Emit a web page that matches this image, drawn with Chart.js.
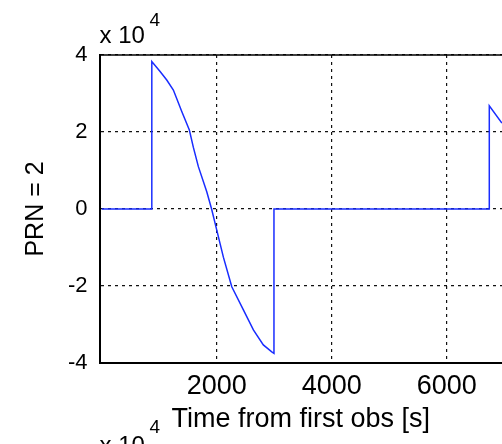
<!DOCTYPE html>
<html>
<head>
<meta charset="utf-8">
<script src="https://cdn.jsdelivr.net/npm/chart.js@4.4.1/dist/chart.umd.min.js"></script>
<style>
  html, body { margin: 0; padding: 0; background: #fff; overflow: hidden; }
  #wrap { width: 502px; height: 444px; }
</style>
</head>
<body>
<div id="wrap"><canvas id="chart" width="502" height="444"></canvas></div>
<script>
// time from first observation [s]
var timeSec = [0, 870, 870, 1014, 1130, 1245, 1391, 1523, 1593, 1680, 1826, 1910, 2000,
               2115, 2261, 2463, 2637, 2810, 2957, 2995, 2995, 6741, 6741, 6960];
// PRN 2 values (raw, plotted as x 10^4)
var prnValue = [0, 0, 38300, 35700, 33500, 30900, 25300, 20500, 16000, 11000, 4500, 0, -5500,
                -12500, -20200, -26200, -31400, -35300, -37100, -37500, 0, 0, 26800, 22300];
var xTicks = [2000, 4000, 6000];
var yTicks = [-40000, -20000, 0, 20000, 40000];
var yLabel = 'PRN = 2';
var xLabel = 'Time from first obs [s]';

var pts = timeSec.map(function (t, i) { return {x: t, y: prnValue[i]}; });

// frame top line + "x 10^4" exponent labels
var extras = {
  id: 'extras',
  afterDraw: function (c) {
    var ctx = c.ctx, a = c.chartArea;
    ctx.save();
    ctx.strokeStyle = '#000';
    ctx.lineWidth = 1.5;
    ctx.beginPath();
    ctx.moveTo(a.left, a.top);
    ctx.lineTo(a.right, a.top);
    ctx.stroke();

    ctx.fillStyle = '#000';
    ctx.textBaseline = 'alphabetic';
    ctx.textAlign = 'left';
    ctx.font = '24px "Liberation Sans", Arial, sans-serif';
    ctx.fillText('x 10', a.left, a.top - 12);
    ctx.font = '19px "Liberation Sans", Arial, sans-serif';
    ctx.fillText('4', a.left + 50, a.top - 29);
    // next subplot's exponent, cut off at the bottom
    ctx.font = '24px "Liberation Sans", Arial, sans-serif';
    ctx.fillText('x 10', a.left, a.bottom + 90);
    ctx.font = '19px "Liberation Sans", Arial, sans-serif';
    ctx.fillText('4', a.left + 50, a.bottom + 70);
    ctx.restore();
  }
};

new Chart('chart', {
  type: 'line',
  data: {
    datasets: [{
      data: pts,
      borderColor: 'rgb(25, 45, 255)',
      borderWidth: 1.5,
      pointRadius: 0,
      tension: 0,
      fill: false
    }]
  },
  plugins: [extras],
  options: {
    responsive: false,
    animation: false,
    layout: { padding: { top: 55, left: 0, right: 0, bottom: 0 } },
    plugins: { legend: { display: false }, tooltip: { enabled: false } },
    scales: {
      x: {
        type: 'linear',
        min: -40,
        max: 6962,
        afterFit: function (s) { s.height = 81; },
        afterBuildTicks: function (s) { s.ticks = xTicks.map(function (v) { return {value: v}; }); },
        ticks: {
          color: '#000',
          padding: 7,
          maxRotation: 0,
          font: { family: 'Liberation Sans', size: 27 },
          callback: function (v) { return String(v); }
        },
        grid: { color: '#111', lineWidth: 1.2, drawTicks: false },
        border: { color: '#000', width: 2, dash: [3, 4] },
        title: {
          display: true,
          text: xLabel,
          color: '#000',
          font: { family: 'Liberation Sans', size: 27 },
          padding: { top: 0, bottom: 8 }
        }
      },
      y: {
        min: -40000,
        max: 40000,
        afterFit: function (s) { s.width = 99.5; },
        afterBuildTicks: function (s) { s.ticks = yTicks.map(function (v) { return {value: v}; }); },
        ticks: {
          color: '#000',
          padding: 12,
          font: { family: 'Liberation Sans', size: 22 },
          callback: function (v) { return String(v / 10000); }
        },
        grid: { color: '#111', lineWidth: 1.2, drawTicks: false },
        border: { color: '#000', width: 2, dash: [3, 4] },
        title: {
          display: true,
          text: yLabel,
          color: '#000',
          font: { family: 'Liberation Sans', size: 25 },
          padding: { top: 21, bottom: 0 }
        }
      }
    }
  }
});
</script>
</body>
</html>
